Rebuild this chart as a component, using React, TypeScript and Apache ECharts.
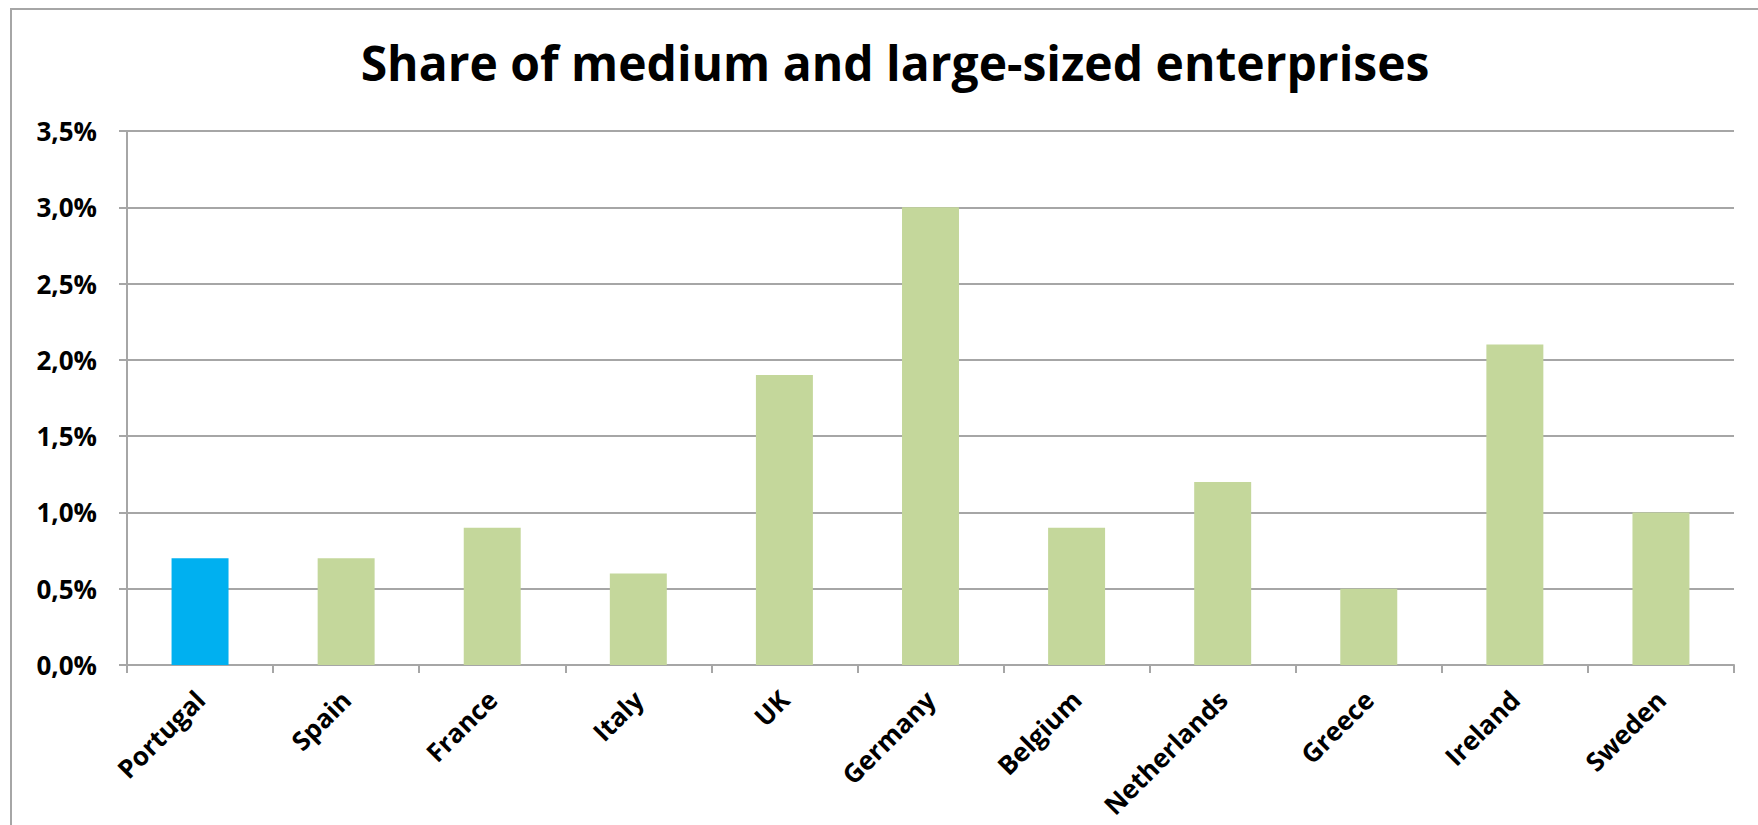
import React, { useEffect, useRef } from "react";
import * as echarts from "echarts";

const titleText = "Share of medium and large-sized enterprises";
const countries = ["Portugal", "Spain", "France", "Italy", "UK", "Germany", "Belgium", "Netherlands", "Greece", "Ireland", "Sweden"];
const shares = [0.7, 0.7, 0.9, 0.6, 1.9, 3.0, 0.9, 1.2, 0.5, 2.1, 1.0];
const highlighted = ["Portugal"];
const yMax = 3.5;
const yStep = 0.5;

const BLUE = "#00B0F0";
const GREEN = "#C4D79B";
const GRID = "#A6A6A6";
const FONT = "Open Sans";

export default function App() {
  const ref = useRef<HTMLDivElement>(null);
  useEffect(() => {
    if (!ref.current) return;
    const chart = echarts.init(ref.current, undefined, { renderer: "svg" });
    chart.setOption({
      animation: false,
      backgroundColor: "#ffffff",
      textStyle: { fontFamily: FONT },
      title: {
        text: titleText,
        left: 890,
        textAlign: "center",
        top: 33,
        textStyle: { fontFamily: FONT, fontWeight: "bold", fontSize: 48, color: "#000" },
      },
      graphic: [
        {
          type: "rect",
          shape: { x: 11, y: 9, width: 1800, height: 900 },
          style: { fill: "none", stroke: GRID, lineWidth: 2 },
          silent: true,
        },
      ],
      grid: { left: 127, right: 24, top: 131, bottom: 160, containLabel: false },
      xAxis: {
        type: "category",
        data: countries,
        axisLine: { lineStyle: { color: GRID, width: 2 } },
        axisTick: { show: true, length: 8, lineStyle: { color: GRID, width: 2 } },
        axisLabel: {
          rotate: 45,
          margin: 30,
          fontFamily: FONT,
          fontWeight: "bold",
          fontSize: 26,
          color: "#000",
          interval: 0,
        },
      },
      yAxis: {
        type: "value",
        min: 0,
        max: yMax,
        interval: yStep,
        axisLine: { show: true, lineStyle: { color: GRID, width: 2 } },
        axisTick: { show: true, length: 8, lineStyle: { color: GRID, width: 2 } },
        splitLine: { show: true, lineStyle: { color: GRID, width: 2 } },
        axisLabel: {
          margin: 30,
          fontFamily: FONT,
          fontWeight: "bold",
          fontSize: 26,
          color: "#000",
          formatter: (v: number) => v.toFixed(1).replace(".", ",") + "%",
        },
      },
      series: [
        {
          type: "bar",
          data: shares.map((v, i) => ({
            value: v,
            itemStyle: { color: highlighted.includes(countries[i]) ? BLUE : GREEN },
          })),
          barCategoryGap: "61%",
        },
      ],
    });
    return () => chart.dispose();
  }, []);
  return (
    <div
      ref={ref}
      style={{ position: "fixed", left: 0, top: 0, width: 1758, height: 825 }}
    />
  );
}
